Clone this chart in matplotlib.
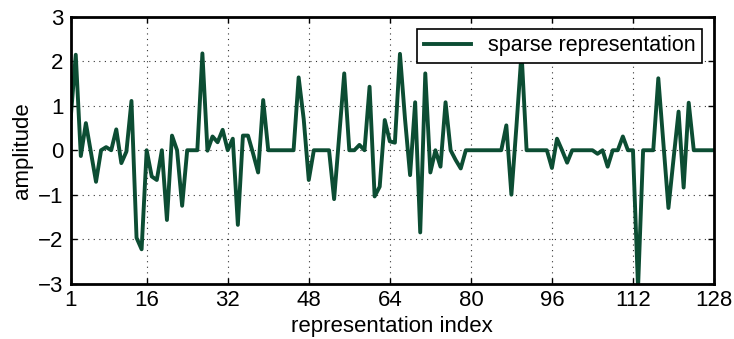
"""
Sparse representation amplitude plot
"""
import matplotlib
matplotlib.use("Agg")
import matplotlib.pyplot as plt

# values, index 1..128
amplitude = [
    0.72, 2.15, -0.13, 0.61, -0.05, -0.71, 0.0, 0.07, 0.0, 0.47,
    -0.29, -0.03, 1.11, -1.97, -2.23, 0.0, -0.59, -0.67, 0.0, -1.57,
    0.33, 0.0, -1.25, 0.0, 0.0, 0.0, 2.18, -0.01, 0.31, 0.18,
    0.46, 0.0, 0.26, -1.68, 0.33, 0.33, -0.07, -0.5, 1.13, 0.0,
    0.0, 0.0, 0.0, 0.0, 0.0, 1.64, 0.7, -0.67, 0.0, 0.0,
    0.0, 0.0, -1.1, 0.3, 1.73, 0.0, 0.0, 0.12, 0.0, 1.43,
    -1.04, -0.82, 0.68, 0.2, 0.17, 2.17, 0.7, -0.56, 1.08, -1.85,
    1.73, -0.5, 0.0, -0.37, 1.08, 0.0, -0.22, -0.41, 0.0, 0.0,
    0.0, 0.0, 0.0, 0.0, 0.0, 0.0, 0.56, -1.0, 0.55, 2.2,
    0.0, 0.0, 0.0, 0.0, 0.0, -0.4, 0.26, 0.0, -0.28, 0.0,
    0.0, 0.0, 0.0, 0.0, -0.08, 0.0, -0.37, 0.0, 0.0, 0.31,
    0.0, 0.0, -3.1, 0.0, 0.0, 0.0, 1.62, 0.15, -1.3, -0.2,
    0.87, -0.84, 1.07, 0.0, 0.0, 0.0, 0.0, 0.0,
]
index = list(range(1, len(amplitude) + 1))
x_ticks = [1, 16, 32, 48, 64, 80, 96, 112, 128]
y_ticks = [-3, -2, -1, 0, 1, 2, 3]

plt.rcParams["font.family"] = ["Liberation Sans", "DejaVu Sans"]
plt.rcParams["font.size"] = 16

fig = plt.figure(figsize=(7.34, 3.39), dpi=100)
ax = fig.add_axes([0.0963, 0.1637, 0.9728 - 0.0963, 0.9499 - 0.1637])

ax.plot(index, amplitude, color="#0c4d33", linewidth=2.8,
        label="sparse representation")

ax.set_xlim(1, 128)
ax.set_ylim(-3, 3)
ax.set_xticks(x_ticks)
ax.set_yticks(y_ticks)
ax.set_xlabel("representation index", labelpad=3)
ax.set_ylabel("amplitude", labelpad=4)

# matlab-ish look: dotted grid, inward ticks on all sides
ax.grid(True, linestyle=(0, (1, 4)), color="#333333", linewidth=0.8)
ax.tick_params(direction="in", top=True, right=True, length=4, width=1, pad=5)
for s in ax.spines.values():
    s.set_linewidth(2)

leg = ax.legend(loc="upper right", fancybox=False, framealpha=1,
                edgecolor="black", handlelength=2.2, borderaxespad=0.55,
                borderpad=0.3, fontsize=15.5)
leg.get_frame().set_linewidth(1.2)

fig.savefig("out.png", dpi=100)
